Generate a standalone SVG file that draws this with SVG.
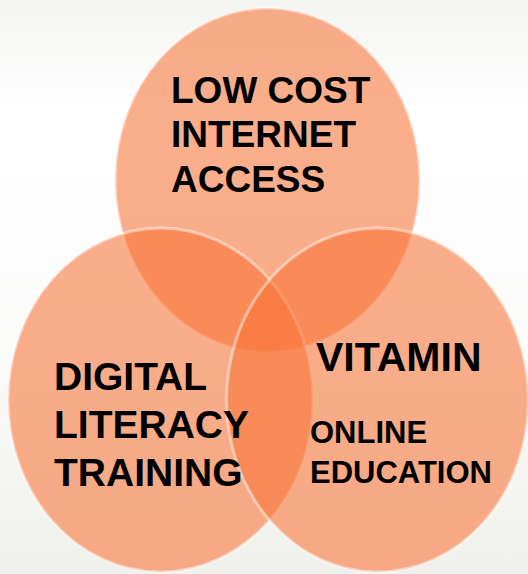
<svg xmlns="http://www.w3.org/2000/svg" width="528" height="574" viewBox="0 0 528 574">
<defs>
<linearGradient id="bg" x1="0" y1="0" x2="0" y2="1">
<stop offset="0" stop-color="#f4f4f2"/>
<stop offset="0.2" stop-color="#ffffff"/>
<stop offset="0.6" stop-color="#fbfbfa"/>
<stop offset="1" stop-color="#f0f0ec"/>
</linearGradient>
</defs>
<style>
.c{fill:rgb(248,115,55);fill-opacity:0.58;stroke:#ffffff;stroke-opacity:0.45;stroke-width:3}
.t{font-family:"Liberation Sans",Arial,sans-serif;font-weight:bold;fill:#000}
</style>
<rect width="528" height="574" fill="url(#bg)"/>
<g id="top">
<ellipse class="c" cx="267.5" cy="180" rx="152.5" ry="172"/>
</g>
<g id="left">
<ellipse class="c" cx="160.5" cy="400" rx="152.5" ry="172"/>
</g>
<g id="right">
<ellipse class="c" cx="377.5" cy="400" rx="151" ry="172"/>
</g>
<g id="labels">
<text class="t" font-size="37" x="171"><tspan x="171" y="103">LOW COST</tspan><tspan x="171" y="147">INTERNET</tspan><tspan x="171" y="192">ACCESS</tspan></text>
<text class="t" font-size="39" x="54"><tspan x="54" y="390">DIGITAL</tspan><tspan x="54" y="438">LITERACY</tspan><tspan x="54" y="486">TRAINING</tspan></text>
<text class="t" font-size="41" x="316" y="371">VITAMIN</text>
<text class="t" font-size="31" x="310"><tspan x="310" y="443">ONLINE</tspan><tspan x="310" y="483">EDUCATION</tspan></text>
</g>
</svg>
